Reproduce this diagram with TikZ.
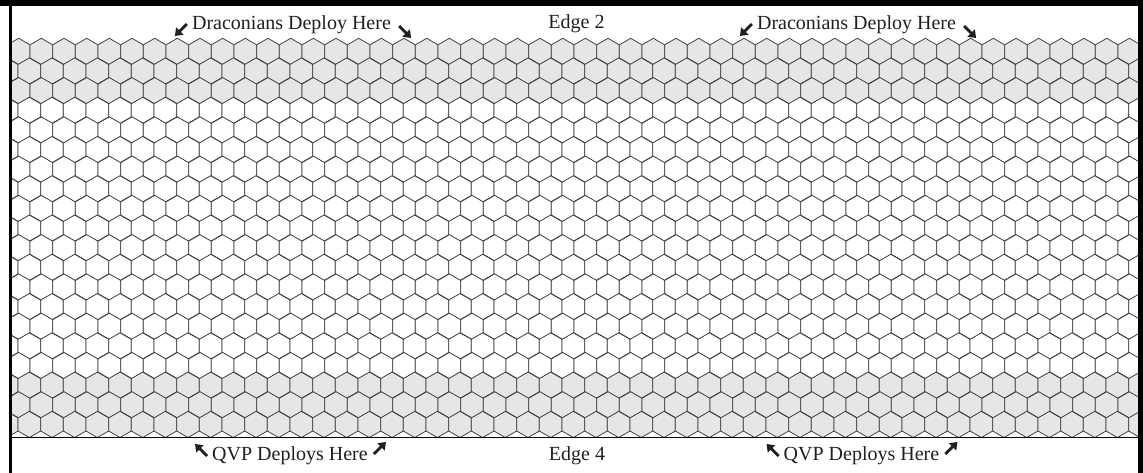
\documentclass[tikz,border=0pt]{standalone}
\usepackage{fontspec}
\setmainfont{Liberation Serif}
\usetikzlibrary{arrows.meta}
\definecolor{hexgray}{HTML}{E5E6E7}
\definecolor{hexline}{HTML}{3A3A3A}
\definecolor{inkc}{HTML}{231F20}
\tikzset{
  hexedge/.style={draw=hexline, line width=0.75pt, line join=miter},
  lab/.style={anchor=base, inner sep=0pt, text=inkc, font=\fontsize{20}{24}\selectfont},
  darr/.style={draw=inkc, line width=2.8pt, -{Triangle[length=7pt,width=10pt]}},
}
\begin{document}
\begin{tikzpicture}[x=1pt,y=-1pt]
\useasboundingbox (0,0) rectangle (1143,473);
\fill[white] (0,0) rectangle (1143,473);
% hex grid
\begin{scope}
\clip (11.5,6) rectangle (1138,437.5);
\foreach \r in {1,...,20}{
  \pgfmathsetmacro\cy{51.39+(\r-1)*19.635}
  \ifodd\r \def\off{18.67}\else\def\off{29.33}\fi
  \ifnum\r<4 \def\hf{hexgray}\else\ifnum\r>17 \def\hf{hexgray}\else\def\hf{white}\fi\fi
  \foreach \k in {-1,...,50}{
    \pgfmathsetmacro\cx{\off+\k*22.667}
    \draw[hexedge, fill=\hf] (\cx,\cy) ++(0,-13.09) -- ++(11.333,6.545) -- ++(0,13.09)
      -- ++(-11.333,6.545) -- ++(-11.333,-6.545) -- ++(0,-13.09) -- cycle;
  }
}
\end{scope}
% frame
\fill[black] (0,0) rectangle (1143,6);
\fill[black] (9,0) rectangle (11.5,473);
\fill[black] (1138,0) rectangle (1143,473);
\draw[black, line width=1.3pt] (11.5,437.5) -- (1138,437.5);
% labels
\node[lab] (d1) at (291.5,30) {Draconians Deploy Here};
\node[lab] (d2) at (856.5,30) {Draconians Deploy Here};
\node[lab] (e2) at (576.5,29) {Edge 2};
\node[lab] (q1) at (290,460) {QVP Deploys Here};
\node[lab] (q2) at (861.5,460) {QVP Deploys Here};
\node[lab] (e4) at (577,460) {Edge 4};
% arrows
\foreach \n in {d1,d2}{
  \draw[darr] ([xshift=-5pt,yshift=6pt]\n.base west) -- ++(-12pt,-12pt);
  \draw[darr] ([xshift=8pt,yshift=4pt]\n.base east) -- ++(12pt,-12pt);
}
\foreach \n in {q1,q2}{
  \draw[darr] ([xshift=-5pt,yshift=4pt]\n.base west) -- ++(-12pt,12pt);
  \draw[darr] ([xshift=6pt,yshift=6pt]\n.base east) -- ++(12pt,12pt);
}
\end{tikzpicture}
\end{document}
